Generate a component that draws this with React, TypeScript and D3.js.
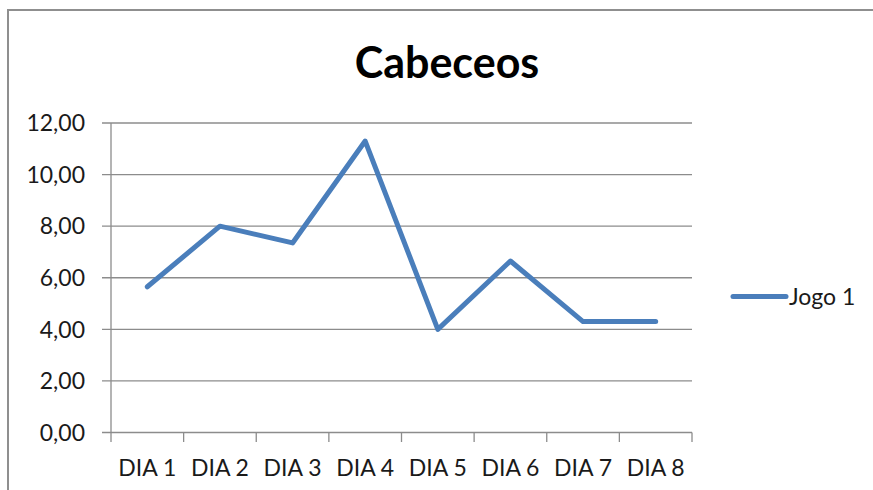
import React, { useRef, useEffect } from 'react';
import * as d3 from 'd3';

// dados do gráfico
const categories = ['DIA 1', 'DIA 2', 'DIA 3', 'DIA 4', 'DIA 5', 'DIA 6', 'DIA 7', 'DIA 8'];
const jogo1 = [5.65, 8.0, 7.35, 11.3, 4.0, 6.65, 4.3, 4.3];
const yTicks = [0, 2, 4, 6, 8, 10, 12];
const seriesName = 'Jogo 1';
const title = 'Cabeceos';

const W = 873;
const H = 490;
const FONT = 'Lato, "Open Sans", sans-serif';

const App = () => {
  const ref = useRef<SVGSVGElement>(null);

  useEffect(() => {
    const svg = d3.select(ref.current);
    svg.selectAll('*').remove();

    const left = 111, right = 692, top = 123, bottom = 432.5;

    // moldura do gráfico
    svg.append('rect')
      .attr('x', 8).attr('y', 10)
      .attr('width', W + 10).attr('height', H + 10)
      .attr('fill', '#fff')
      .attr('stroke', '#8f8f8f')
      .attr('stroke-width', 2);

    const x = d3.scaleBand<string>().domain(categories).range([left, right]);
    const y = d3.scaleLinear().domain([0, 12]).range([bottom, top]);
    const fmt = (v: number) => d3.format('.2f')(v).replace('.', ',');

    // linhas de grade horizontais
    svg.append('g')
      .selectAll('line')
      .data(yTicks)
      .join('line')
      .attr('x1', left - 9).attr('x2', right)
      .attr('y1', d => y(d)).attr('y2', d => y(d))
      .attr('stroke', '#8c8c8c')
      .attr('stroke-width', 1.3);

    // eixo vertical
    svg.append('line')
      .attr('x1', left).attr('x2', left)
      .attr('y1', top).attr('y2', bottom)
      .attr('stroke', '#8c8c8c')
      .attr('stroke-width', 1.3);

    // marcas do eixo x
    const xTicks = categories.map(c => x(c) as number).concat([right]);
    svg.append('g')
      .selectAll('line')
      .data(xTicks)
      .join('line')
      .attr('x1', d => d).attr('x2', d => d)
      .attr('y1', bottom).attr('y2', bottom + 9.5)
      .attr('stroke', '#8c8c8c')
      .attr('stroke-width', 1.3);

    // rótulos do eixo y
    svg.append('g')
      .selectAll('text')
      .data(yTicks)
      .join('text')
      .attr('x', 85)
      .attr('y', d => y(d))
      .attr('dy', '0.36em')
      .attr('text-anchor', 'end')
      .style('font-family', FONT)
      .style('font-size', '23px')
      .attr('fill', '#1a1a1a')
      .text(d => fmt(d));

    // rótulos do eixo x
    svg.append('g')
      .selectAll('text')
      .data(categories)
      .join('text')
      .attr('x', d => (x(d) as number) + x.bandwidth() / 2)
      .attr('y', bottom + 43)
      .attr('text-anchor', 'middle')
      .style('font-family', FONT)
      .style('font-size', '23px')
      .attr('fill', '#1a1a1a')
      .text(d => d);

    // linha da série
    const line = d3.line<number>()
      .x((_, i) => (x(categories[i]) as number) + x.bandwidth() / 2)
      .y(d => y(d));

    svg.append('path')
      .datum(jogo1)
      .attr('d', line)
      .attr('fill', 'none')
      .attr('stroke', '#4a7ebb')
      .attr('stroke-width', 5)
      .attr('stroke-linejoin', 'round')
      .attr('stroke-linecap', 'round');

    // título
    svg.append('text')
      .attr('x', 447)
      .attr('y', 78)
      .attr('text-anchor', 'middle')
      .style('font-family', FONT)
      .style('font-size', '43px')
      .style('font-weight', 'bold')
      .attr('fill', '#000')
      .text(title);

    // legenda
    svg.append('line')
      .attr('x1', 733).attr('x2', 786)
      .attr('y1', 296.5).attr('y2', 296.5)
      .attr('stroke', '#4a7ebb')
      .attr('stroke-width', 5)
      .attr('stroke-linecap', 'round');

    svg.append('text')
      .attr('x', 789)
      .attr('y', 304.5)
      .style('font-family', FONT)
      .style('font-size', '23px')
      .attr('fill', '#1a1a1a')
      .text(seriesName);
  }, []);

  return (
    <svg
      ref={ref}
      width={W}
      height={H}
      style={{ position: 'absolute', left: 0, top: 0, display: 'block', background: '#fff' }}
    />
  );
};

export default App;
